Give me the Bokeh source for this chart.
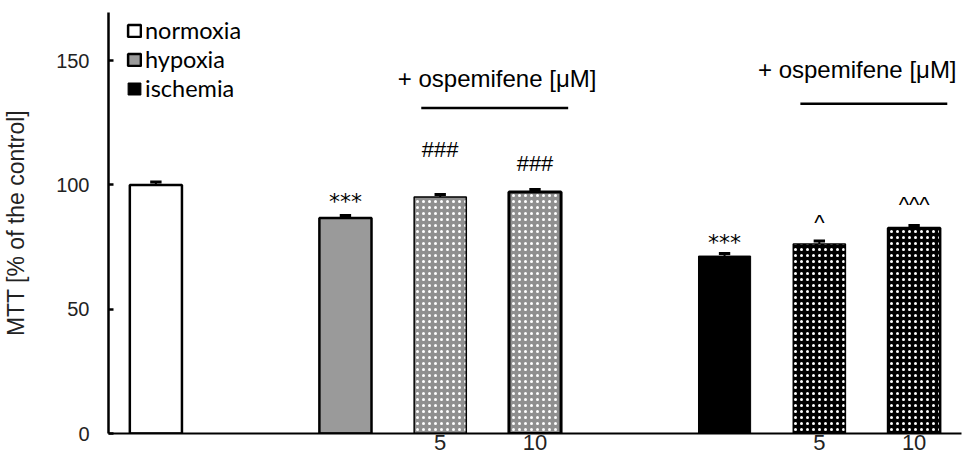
from bokeh.plotting import figure
from bokeh.models import Range1d, FixedTicker, Label, Legend, LegendItem, ColumnDataSource
from bokeh.core.properties import value
from bokeh.embed import file_html
from bokeh.resources import INLINE

# ---------------- data ----------------
categories = ["normoxia", "hypoxia", "hypoxia + ospemifene 5", "hypoxia + ospemifene 10",
              "ischemia", "ischemia + ospemifene 5", "ischemia + ospemifene 10"]
mtt = [100.0, 86.7, 95.2, 97.2, 71.4, 76.2, 82.7]
sem = [1.2, 1.0, 1.0, 1.0, 1.0, 1.3, 1.0]
marks = ["", "***", "###", "###", "***", "^", "^^^"]
dose_labels = ["", "", "5", "10", "", "5", "10"]
legend_labels = ["normoxia", "hypoxia", "ischemia"]
y_ticks = [0, 50, 100, 150]
group_label = "+ ospemifene [μM]"
y_label = "MTT [% of the control]"

# ---------------- layout / style ----------------
slots = [1, 3, 4, 5, 7, 8, 9]
fills = ["white", "#9a9a9a", "#8f8f8f", "#8f8f8f", "black", "black", "black"]
hatches = [" ", " ", "dot", "dot", " ", "dot", "dot"]
line_widths = [2.5, 2.5, 1.5, 3.0, 1.0, 1.5, 2.5]
mark_offsets = [0, 5.8, 18.1, 10.5, 4.6, 7.5, 8.5]
mark_fonts = ["DejaVu Sans" if m.startswith("*") else "Liberation Sans" for m in marks]
ARIAL = "Liberation Sans"
BAR_W = 0.55
CAP = 0.06

src = ColumnDataSource(dict(
    x=slots, top=mtt, fill=fills, hatch=hatches, lw=line_widths,
    err_top=[m + s for m, s in zip(mtt, sem)],
    cap0=[x - CAP for x in slots], cap1=[x + CAP for x in slots],
    mark=marks, mark_y=[m + s + o for m, s, o in zip(mtt, sem, mark_offsets)],
    mark_font=mark_fonts,
))

p = figure(width=968, height=461, output_backend="svg", toolbar_location=None,
           x_range=Range1d(0.5, 9.5), y_range=Range1d(0, 169.4),
           min_border_left=107, min_border_right=7, min_border_top=12, min_border_bottom=28)
p.outline_line_color = None
p.grid.visible = False
p.background_fill_color = "white"

bars = p.vbar(x="x", top="top", bottom=0, width=BAR_W, source=src,
              fill_color="fill", line_color="black", line_width="lw",
              hatch_pattern="hatch", hatch_color="white", hatch_scale=6, hatch_weight=3)

# error bars (upper only)
p.segment(x0="x", y0="top", x1="x", y1="err_top", source=src, line_color="black", line_width=2)
p.segment(x0="cap0", y0="err_top", x1="cap1", y1="err_top", source=src, line_color="black", line_width=3)

# significance marks
p.text(x="x", y="mark_y", text="mark", source=src, text_align="center",
       text_baseline="alphabetic", text_font="mark_font", text_font_size="22px", text_color="black")

# ospemifene brackets
groups = [(slots[2], slots[3]), (slots[5], slots[6])]
label_shift = [0.1, -0.1]
for (a, b), sh, yl, yt in zip(groups, label_shift, [131, 132.7], [143, 146.4]):
    p.segment(x0=[a - 0.2], y0=[yl], x1=[b + 0.35], y1=[yl], line_color="black", line_width=2.5)
    p.add_layout(Label(x=(a + b) / 2 + sh, y=yt, text=group_label, text_align="center",
                       text_baseline="middle", text_font=ARIAL, text_font_size="24px",
                       text_color="black"))

# axes
p.yaxis.ticker = FixedTicker(ticks=y_ticks)
p.yaxis.axis_line_width = 2.5
p.yaxis.axis_line_color = "black"
p.yaxis.major_tick_in = 5
p.yaxis.major_tick_out = 0
p.yaxis.major_tick_line_width = 2.5
p.yaxis.minor_tick_line_color = None
p.yaxis.major_label_text_font = ARIAL
p.yaxis.major_label_text_font_size = "20px"
p.yaxis.major_label_text_color = "#222222"
p.yaxis.major_label_standoff = 19
p.yaxis.axis_label = y_label
p.yaxis.axis_label_text_font = ARIAL
p.yaxis.axis_label_text_font_size = "23px"
p.yaxis.axis_label_text_font_style = "normal"
p.yaxis.axis_label_text_color = "#222222"
p.yaxis.axis_label_standoff = 24

dose_slots = [s for s, d in zip(slots, dose_labels) if d]
p.xaxis.ticker = FixedTicker(ticks=dose_slots)
p.xaxis.major_label_overrides = {s: d for s, d in zip(slots, dose_labels) if d}
p.xaxis.axis_line_width = 2
p.xaxis.axis_line_color = "black"
p.xaxis.major_tick_line_color = None
p.xaxis.minor_tick_line_color = None
p.xaxis.major_tick_out = 0
p.xaxis.major_tick_in = 0
p.xaxis.major_label_standoff = 1
p.xaxis.major_label_text_font = ARIAL
p.xaxis.major_label_text_font_size = "22px"
p.xaxis.major_label_text_color = "#222222"

legend = Legend(items=[LegendItem(label=lab, renderers=[bars], index=i)
                       for i, lab in enumerate(legend_labels[:2])] +
                      [LegendItem(label=legend_labels[2], renderers=[bars], index=4)],
                location=(12, 325), orientation="vertical")
legend.label_text_font = "Lato"
legend.label_text_font_size = "23.5px"
legend.label_text_color = "black"
legend.glyph_width = 16
legend.glyph_height = 15
legend.label_height = 28
legend.label_standoff = 3
legend.spacing = 1
legend.padding = 6
legend.margin = 0
legend.border_line_alpha = 0
legend.background_fill_alpha = 0
p.add_layout(legend, "center")

open("out.html", "w").write(file_html(p, INLINE))
